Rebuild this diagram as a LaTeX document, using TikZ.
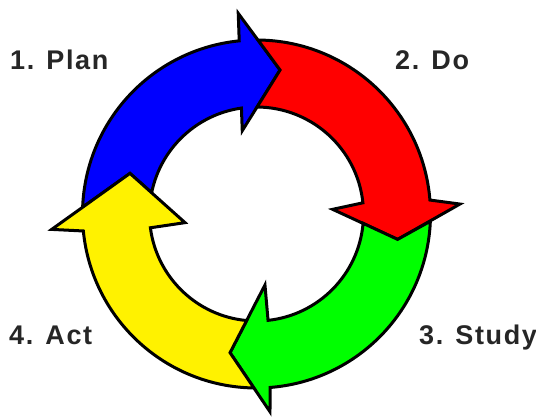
\documentclass[tikz,border=0pt]{standalone}
\usepackage{fontspec}
\setmainfont{Liberation Sans}
\newfontfamily\lblfont[LetterSpace=6]{Liberation Sans}
\tikzset{
  arrowshape/.style={draw=black, line width=3pt, line join=miter, miter limit=6},
  lbl/.style={font=\lblfont\bfseries\fontsize{27}{27}\selectfont, text=black!85, inner sep=0pt, anchor=base west}
}
\begin{document}
\begin{tikzpicture}[x=1pt,y=1pt]
\useasboundingbox (0,0) rectangle (536,416);
\coordinate (C) at (256.5,202);
\begin{scope}[shift={(C)}]
% blue
\draw[arrowshape, fill=blue] (177.75:174) arc[start angle=177.75, end angle=95.7, radius=174]
  -- (95.2:201.5) -- (80.7:145.9) -- (99.7:84.5) -- (98.1:107)
  arc[start angle=98.1, end angle=168.5, radius=107] -- (162.2:132.9) -- cycle;
% red
\draw[arrowshape, fill=red] (89.5:174) arc[start angle=89.5, end angle=4.6, radius=174]
  -- (2.8:203.7) -- (-10.2:143.4) -- (3.5:76.3) -- (6.0:107)
  arc[start angle=6, end angle=89.7, radius=107] -- (80.7:145.9) -- cycle;
% green
\draw[arrowshape, fill=green] (-2.4:174) arc[start angle=-2.4, end angle=-85.5, radius=174]
  -- (-86.1:198.2) -- (-100.8:141.2) -- (-83.2:71.5) -- (-83.8:107)
  arc[start angle=-83.8, end angle=-5.0, radius=107] -- (-10.2:143.4) -- cycle;
% yellow
\draw[arrowshape, fill=yellow] (269.15:174) arc[start angle=269.15, end angle=185.6, radius=174]
  -- (184.3:205.4) -- (162.2:132.9) -- (186.9:72) -- (187.4:107)
  arc[start angle=187.4, end angle=264.7, radius=107] -- (259.2:141.2) -- cycle;
\end{scope}
\node[lbl] (plan) at (10,346) {1. Plan};
\node[lbl] (do) at (395,346) {2. Do};
\node[lbl] (study) at (419,71.7) {3. Study};
\node[lbl] (act) at (9,71.7) {4. Act};
\end{tikzpicture}
\end{document}
